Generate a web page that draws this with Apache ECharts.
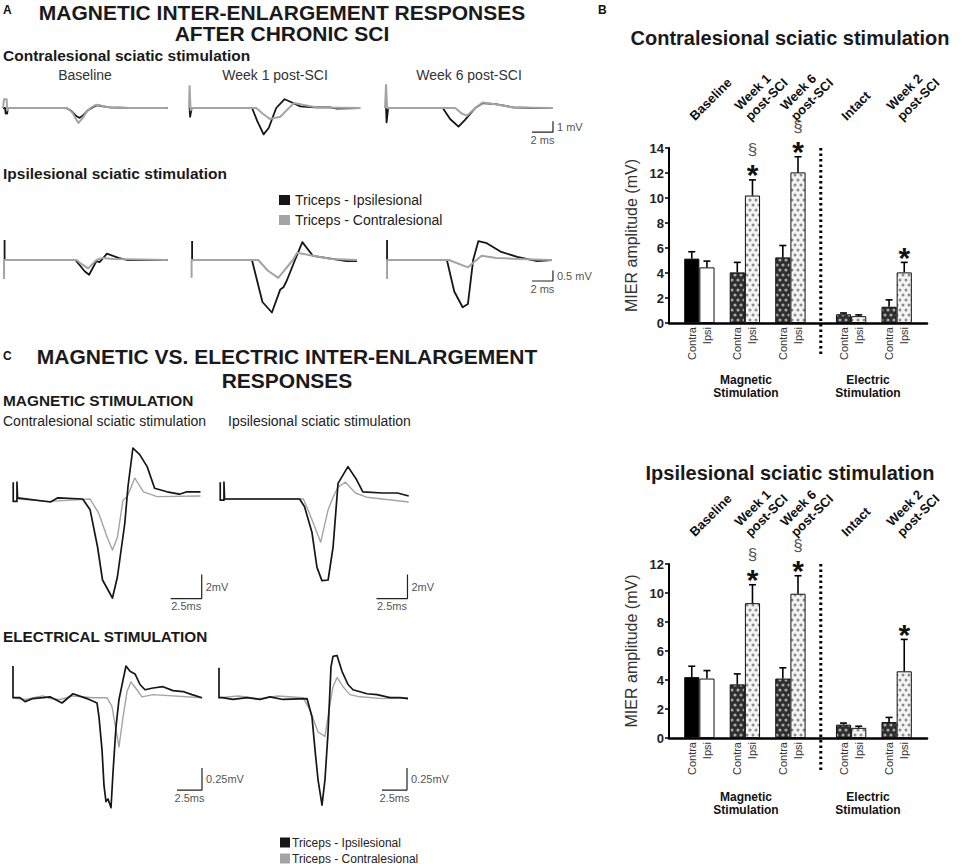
<!DOCTYPE html>
<html><head><meta charset="utf-8">
<script src="https://cdn.jsdelivr.net/npm/echarts@6/dist/echarts.min.js"></script>
<style>html,body{margin:0;padding:0;background:#fff}#c{width:964px;height:864px}</style>
</head><body><div id="c"></div>
<script>
// ================= DATA =================
const NAME_IPSI = 'Triceps - Ipsilesional';
const NAME_CONTRA = 'Triceps - Contralesional';

// Panel A: time (ms), amplitude (mV). "Ipsi" = Triceps - Ipsilesional (black), "Contra" = Triceps - Contralesional (grey)
const aContraStimBaselineIpsi = [[0,0],[0.2,0],[0.25,-0.5],[0.4,-0.5],[0.45,0],[6.0,0],[6.5,-0.25],[7.0,-0.75],[7.3,-0.9],[7.7,-0.6],[8.1,-0.2],[8.6,0.1],[9.0,0.25],[9.5,0.15],[10.2,0.05],[12,0],[15.7,0]];
const aContraStimBaselineContra = [[0,0],[0.1,0.8],[0.35,0.8],[0.4,-0.2],[0.5,0],[6.1,0],[6.6,-0.4],[7.0,-1.1],[7.2,-1.35],[7.6,-0.9],[8.0,-0.3],[8.4,0.05],[8.9,0.3],[9.4,0.2],[10.2,0.05],[12,0],[15.7,0]];
const aContraStimWeek1Ipsi = [[0.15,0],[0.2,-0.8],[0.35,0],[6.1,0],[6.6,-1.2],[7.2,-2.4],[7.7,-1.8],[8.4,0],[9.2,0.8],[9.9,0.5],[10.7,0.15],[12,0.05],[13.5,0.05],[14.2,-0.05],[16.4,0]];
const aContraStimWeek1Contra = [[0.1,0],[0.15,2.0],[0.25,-0.2],[0.35,0],[6.5,0],[7.1,-0.5],[7.8,-1.0],[8.8,-0.8],[9.3,-0.3],[10.1,0.45],[10.9,0.3],[12.3,0.05],[16.4,0]];
const aContraStimWeek6Ipsi = [[0.1,0],[0.15,-1.3],[0.3,0],[5.5,0],[6.2,-1.0],[7.0,-1.7],[7.6,-1.1],[8.6,0],[9.3,0.45],[10.5,0.35],[11.5,0.2],[12.2,0.05],[14,0],[16,0]];
const aContraStimWeek6Contra = [[0,0],[0.1,2.1],[0.2,0],[6.7,0],[7.3,-0.5],[7.8,-0.7],[8.6,0],[9.3,0.5],[10.5,0.35],[12.2,0.05],[16,0]];

const aIpsiStimBaselineIpsi = [[0.15,0.95],[0.15,0],[6.9,0],[7.8,-0.55],[8.2,-0.7],[8.9,-0.05],[9.2,-0.1],[9.9,0.3],[11,0.1],[11.8,0],[15.7,0]];
const aIpsiStimBaselineContra = [[0.1,-0.9],[0.1,0],[7.0,0],[7.5,-0.2],[8.1,-0.4],[8.9,0],[9.5,0.1],[10.5,0.05],[15.7,0]];
const aIpsiStimWeek1Ipsi = [[0.2,0.9],[0.2,0],[5.9,0],[6.9,-2.0],[7.8,-2.5],[8.6,-1.4],[8.9,-1.3],[9.2,-1.0],[10.0,0],[10.7,0.85],[11.7,0.2],[14.9,-0.05],[15.9,-0.05]];
const aIpsiStimWeek1Contra = [[0.15,-0.85],[0.15,0],[6.5,0],[7.4,-0.5],[8.4,-0.85],[9.8,0],[10.2,0.35],[11.7,0.2],[13.5,0.05],[15.9,0]];
const aIpsiStimWeek6Ipsi = [[0.1,0.95],[0.1,0],[5.8,0],[6.5,-1.5],[7.3,-2.25],[7.8,-2.1],[8.3,0],[8.8,0.9],[9.6,0.8],[10.9,0.4],[12.5,0.15],[14.4,-0.05],[15.8,0]];
const aIpsiStimWeek6Contra = [[0.1,-0.9],[0.1,0],[6.0,0],[7.8,-0.35],[9.1,0.2],[10.5,0.1],[12.5,0.05],[15.8,0]];

// Panel C
const cMagContraStimIpsi = [[0.1,1.4],[0.1,-0.2],[0.4,-0.2],[0.4,1.4],[0.45,0.1],[3.1,-0.25],[3.7,0.1],[5.7,0],[6.3,-0.9],[6.9,-4.0],[7.3,-6.75],[8.1,-8.25],[8.5,-6.5],[9.1,-2.0],[9.35,1.0],[9.75,4.25],[10.3,3.7],[10.9,2.7],[11.5,0.9],[12.5,0.6],[13.5,0.4],[14.1,0.6],[15.2,0.6]];
const cMagContraStimContra = [[0.5,0],[3.0,-0.2],[6.3,0],[7.0,-1.2],[7.7,-3.25],[8.1,-4.25],[8.5,-3.2],[8.95,-0.1],[9.3,0.2],[9.9,1.75],[10.6,0.6],[11.7,0.2],[15.2,0.25]];
const cMagIpsiStimIpsi = [[0.1,1.4],[0.1,-0.1],[0.4,-0.1],[0.4,1.4],[0.45,0],[6.5,0],[6.9,-0.65],[7.5,-2.8],[7.9,-5.7],[8.3,-6.8],[8.8,-6.75],[9.2,-4.0],[9.6,1.3],[10.4,2.7],[11.1,1.6],[11.6,0.6],[13.2,0.5],[14.4,0.5],[15.3,0.25]];
const cMagIpsiStimContra = [[0.45,0],[6.8,0],[7.3,-1.2],[8.2,-3.6],[8.8,-0.9],[9.2,0.15],[9.6,1.0],[10.2,1.4],[11.0,0.5],[11.9,0.15],[15.3,-0.25]];
const cElecContraStimIpsi = [[0.1,0.36],[0.1,0],[0.8,0],[1.3,-0.045],[2.1,-0.01],[3.1,0],[3.8,0.01],[5.0,-0.06],[6.1,0.045],[7.5,-0.01],[8.5,-0.06],[8.7,-0.22],[9.0,-0.59],[9.2,-1.0],[9.4,-1.18],[9.6,-1.15],[9.9,-1.25],[10.1,-0.85],[10.4,-0.33],[10.7,-0.02],[11.1,0.2],[11.4,0.36],[11.8,0.3],[12.3,0.27],[12.8,0.15],[13.3,0.09],[14.1,0.11],[15.1,0.125],[16.1,0.08],[17.1,0.07],[18.0,0.035],[19.0,0]];
const cElecContraStimContra = [[0.1,0],[1.3,-0.02],[2.5,0.01],[3.1,0.02],[3.8,-0.01],[4.8,-0.02],[6.1,0.02],[8.1,0],[9.5,0],[10.0,-0.1],[10.3,-0.3],[10.7,-0.56],[11.1,-0.22],[11.5,0.07],[11.9,0.18],[12.5,0.09],[13.0,0.01],[14.1,0.035],[19.0,0]];
const cElecIpsiStimIpsi = [[0.1,0.34],[0.1,0],[0.4,0],[1.5,-0.02],[2.9,0],[4.2,-0.02],[5.2,0.01],[6.5,-0.02],[8.9,-0.01],[9.4,-0.22],[9.7,-0.59],[10.0,-0.93],[10.4,-1.22],[10.7,-0.93],[11.0,-0.4],[11.3,0.35],[11.5,0.47],[11.9,0.48],[12.4,0.3],[13.0,0.15],[13.5,0.09],[14.9,0.045],[15.9,0.035],[17.2,0],[18.2,0],[19.0,-0.01]];
const cElecIpsiStimContra = [[0.1,0],[2.0,0.02],[4.0,-0.01],[6.0,0.02],[8.5,0],[9.2,-0.14],[10.0,-0.39],[10.7,-0.44],[11.1,-0.14],[11.5,0.125],[11.9,0.23],[12.5,0.125],[13.2,0.035],[14.2,0.01],[16.5,-0.01],[19.0,0]];

// Scale bars: [ms, mV, ms label, mV label]
const scaleA1 = [2, 1, '2 ms', '1 mV'];
const scaleA2 = [2, 0.5, '2 ms', '0.5 mV'];
const scaleCMag = [2.5, 2, '2.5ms', '2mV'];
const scaleCElec = [2.5, 0.25, '2.5ms', '0.25mV'];

// Panel B bar charts
const barSlots = ['', 'Contra', 'Ipsi', '', 'Contra', 'Ipsi', '', 'Contra', 'Ipsi', '', '', 'Contra', 'Ipsi', '', 'Contra', 'Ipsi', ''];
const groupLabels = ['Baseline', 'Week 1\npost-SCI', 'Week 6\npost-SCI', 'Intact', 'Week 2\npost-SCI'];
const contraStimContraMean = [5.15, 4.05, 5.25, 0.7, 1.3];
const contraStimContraSem  = [0.55, 0.8, 0.95, 0.1, 0.55];
const contraStimIpsiMean   = [4.45, 10.2, 12.05, 0.55, 4.05];
const contraStimIpsiSem    = [0.5, 1.25, 1.25, 0.1, 0.8];
const ipsiStimContraMean = [4.2, 3.7, 4.1, 0.92, 1.1];
const ipsiStimContraSem  = [0.75, 0.72, 0.74, 0.11, 0.32];
const ipsiStimIpsiMean   = [4.1, 9.3, 9.95, 0.7, 4.6];
const ipsiStimIpsiSem    = [0.55, 1.27, 1.24, 0.11, 2.2];
const starGroups = [1, 2, 4];
const sectionGroups = [1, 2];
const yTopMax = 14, yBottomMax = 12, yStep = 2;

// ================= BUILD =================
const FONT = "'Liberation Sans', Arial, Helvetica, sans-serif";
const BLACK = '#161616', GRAY = '#a4a4a4';
const groupSlot = [1, 4, 7, 11, 14];
const dividerSlot = 9;

const option = {
  animation: false,
  backgroundColor: '#fff',
  textStyle: { fontFamily: FONT },
  grid: [], xAxis: [], yAxis: [], series: [],
  legend: [
    { data: [NAME_IPSI, NAME_CONTRA], orient: 'vertical', left: 279, top: 193, height: 50, icon: 'rect', padding: 0,
      itemWidth: 11, itemHeight: 10, itemGap: 6, selectedMode: false,
      textStyle: { fontSize: 14, color: '#222', lineHeight: 14, fontFamily: FONT } },
    { data: [NAME_IPSI, NAME_CONTRA], orient: 'vertical', left: 280, top: 836.5, height: 40, icon: 'rect', padding: 0,
      itemWidth: 10, itemHeight: 10, itemGap: 4, selectedMode: false,
      textStyle: { fontSize: 12, color: '#222', lineHeight: 11, fontFamily: FONT, padding: [0, 0, 0, -3] } }
  ],
  graphic: { elements: [] }
};

function addTraceGrid(left, top, width, height, xMax, yMin, yMax) {
  const g = option.grid.length;
  option.grid.push({ left, top, width, height, containLabel: false, outerBoundsMode: 'none' });
  const x = option.xAxis.length; option.xAxis.push({ type: 'value', gridIndex: g, min: 0, max: xMax, show: false });
  const y = option.yAxis.length; option.yAxis.push({ type: 'value', gridIndex: g, min: yMin, max: yMax, show: false });
  return { x, y };
}
function addTrace(ax, data, color, width, name, z) {
  option.series.push({ type: 'line', name, xAxisIndex: ax.x, yAxisIndex: ax.y, data,
    symbol: 'none', showSymbol: false, silent: true, clip: false, z,
    lineStyle: { color, width, join: 'round' }, itemStyle: { color } });
}
function addPair(ax, ipsi, contra, wBlack, wGray, grayOnTop) {
  addTrace(ax, ipsi, BLACK, wBlack, NAME_IPSI, grayOnTop ? 2 : 3);
  addTrace(ax, contra, GRAY, wGray, NAME_CONTRA, grayOnTop ? 3 : 2);
}
function addScaleBar(ax, tEnd, vBottom, sc) {
  const [ms, mV, msTxt, mVTxt] = sc;
  option.series.push({ type: 'line', xAxisIndex: ax.x, yAxisIndex: ax.y, silent: true, clip: false,
    symbol: 'none', lineStyle: { color: '#222', width: 1.2 },
    data: [[tEnd - ms, vBottom], [tEnd, vBottom], [tEnd, vBottom + mV]] });
  const lab = { show: true, fontSize: 11, color: '#222', fontFamily: FONT };
  option.series.push({ type: 'scatter', xAxisIndex: ax.x, yAxisIndex: ax.y, silent: true, symbolSize: 0, clip: false,
    data: [
      { value: [tEnd - ms / 2, vBottom], label: Object.assign({}, lab, { formatter: msTxt, position: 'bottom', distance: 2 }) },
      { value: [tEnd, vBottom + mV / 2], label: Object.assign({}, lab, { formatter: mVTxt, position: 'right', distance: 4 }) }
    ] });
}

// Panel A row 1 (contralesional stimulation): 10.5 px/ms, 11 px/mV
const A1 = [3, 188, 385].map(l => addTraceGrid(l, 80.5, 178.5, 55, 17, -2.5, 2.5));
addPair(A1[0], aContraStimBaselineIpsi, aContraStimBaselineContra, 1.8, 2, true);
addPair(A1[1], aContraStimWeek1Ipsi, aContraStimWeek1Contra, 1.8, 2, true);
addPair(A1[2], aContraStimWeek6Ipsi, aContraStimWeek6Contra, 1.8, 2, true);
addScaleBar(A1[2], 16.0, -2.2, scaleA1);
// Panel A row 2 (ipsilesional stimulation): 10.5 px/ms, 21 px/mV
const A2 = [3, 190, 386].map(l => addTraceGrid(l, 218, 178.5, 105, 17, -3, 2));
addPair(A2[0], aIpsiStimBaselineIpsi, aIpsiStimBaselineContra, 1.8, 2, true);
addPair(A2[1], aIpsiStimWeek1Ipsi, aIpsiStimWeek1Contra, 1.8, 2, true);
addPair(A2[2], aIpsiStimWeek6Ipsi, aIpsiStimWeek6Contra, 1.8, 2, true);
addScaleBar(A2[2], 15.9, -1.0, scaleA2);
// Panel C magnetic: 12.4 px/ms, 12 px/mV
const CM = [12, 219].map(l => addTraceGrid(l, 439, 198.4, 168, 16, -9, 5));
addPair(CM[0], cMagContraStimIpsi, cMagContraStimContra, 1.7, 1.4, false);
addPair(CM[1], cMagIpsiStimIpsi, cMagIpsiStimContra, 1.7, 1.4, false);
addScaleBar(CM[0], 15.3, -8.3, scaleCMag);
addScaleBar(CM[1], 15.2, -8.3, scaleCMag);
// Panel C electrical: 10 px/ms, 88 px/mV
const CE = [12, 218].map(l => addTraceGrid(l, 644.9, 200, 167.2, 20, -1.3, 0.6));
addPair(CE[0], cElecContraStimIpsi, cElecContraStimContra, 1.7, 1.4, false);
addPair(CE[1], cElecIpsiStimIpsi, cElecIpsiStimContra, 1.7, 1.4, false);
addScaleBar(CE[0], 19.0, -1.05, scaleCElec);
addScaleBar(CE[1], 18.9, -1.05, scaleCElec);

// ---- bar patterns ----
function makePattern(bg, fg, r) {
  const c = document.createElement('canvas'); c.width = 6; c.height = 10;
  const g = c.getContext('2d'); g.fillStyle = bg; g.fillRect(0, 0, 6, 10); g.fillStyle = fg;
  [[0, 0], [6, 0], [0, 10], [6, 10], [3, 5]].forEach(([x, y]) => { g.beginPath(); g.arc(x, y, r, 0, Math.PI * 2); g.fill(); });
  return { image: c, repeat: 'repeat', imageWidth: 6, imageHeight: 10 };
}
const darkPattern = makePattern('#2e2e2e', '#a8a8a8', 1.6);
const lightPattern = makePattern('#f4f4f4', '#8c8c8c', 1.5);

function addBarChart(top, height, yMax, cMean, cSem, iMean, iSem) {
  const g = option.grid.length;
  option.grid.push({ left: 669, top, width: 258, height, containLabel: false, outerBoundsMode: 'none' });
  const xb = option.xAxis.length;
  option.xAxis.push({ type: 'category', gridIndex: g, data: barSlots, position: 'bottom',
    axisLine: { lineStyle: { color: '#000', width: 2.5 } }, axisTick: { show: false },
    axisLabel: { interval: 0, rotate: 90, fontSize: 11, color: '#333', margin: 4, fontFamily: FONT } });
  const topData = barSlots.map((s, i) => {
    const k = groupSlot.indexOf(i);
    if (k < 0) return { value: '' };
    const label = groupLabels[k];
    return { value: label, textStyle: label.indexOf('\n') >= 0 ? { padding: [0, 0, 14, 7] } : { padding: [0, 0, 4, 0] } };
  });
  option.xAxis.push({ type: 'category', gridIndex: g, data: topData, position: 'top',
    axisLine: { show: false }, axisTick: { show: false },
    axisLabel: { interval: 0, rotate: -45, margin: 30, fontSize: 13, fontWeight: 'bold', color: '#111',
      lineHeight: 15, fontFamily: FONT } });
  const y = option.yAxis.length;
  option.yAxis.push({ type: 'value', gridIndex: g, min: 0, max: yMax, interval: yStep,
    axisLine: { show: true, lineStyle: { color: '#000', width: 2 } },
    axisTick: { show: true, length: 4, lineStyle: { color: '#000', width: 1.5 } },
    splitLine: { show: false },
    axisLabel: { fontSize: 13, fontWeight: 'bold', color: '#222', margin: 5, fontFamily: FONT },
    name: 'MIER amplitude (mV)', nameLocation: 'middle', nameGap: 30,
    nameTextStyle: { fontSize: 16, color: '#333', fontFamily: FONT } });
  const data = barSlots.map(() => '-');
  cMean.forEach((v, k) => { data[groupSlot[k]] = { value: v, itemStyle: { color: k === 0 ? '#000' : darkPattern } }; });
  iMean.forEach((v, k) => { data[groupSlot[k] + 1] = { value: v, itemStyle: { color: k === 0 ? '#fff' : lightPattern } }; });
  option.series.push({ type: 'bar', xAxisIndex: xb, yAxisIndex: y, data, barWidth: '100%', silent: true,
    itemStyle: { borderColor: '#111', borderWidth: 1 }, z: 2 });
  const err = [];
  cMean.forEach((v, k) => err.push([groupSlot[k], v, v + cSem[k]]));
  iMean.forEach((v, k) => err.push([groupSlot[k] + 1, v, v + iSem[k]]));
  option.series.push({ type: 'custom', xAxisIndex: xb, yAxisIndex: y, data: err, silent: true, clip: false, z: 4,
    renderItem: (p, api) => {
      const a = api.coord([api.value(0), api.value(1)]), b = api.coord([api.value(0), api.value(2)]);
      const st = { stroke: '#000', lineWidth: 1.6 };
      return { type: 'group', children: [
        { type: 'line', shape: { x1: a[0], y1: a[1], x2: b[0], y2: b[1] }, style: st },
        { type: 'line', shape: { x1: b[0] - 3.5, y1: b[1], x2: b[0] + 3.5, y2: b[1] }, style: st } ] };
    } });
  const ann = iMean.map((v, k) => [groupSlot[k] + 1, v + iSem[k], starGroups.includes(k) ? 1 : 0, sectionGroups.includes(k) ? 1 : 0])
    .filter(d => d[2] || d[3]);
  option.series.push({ type: 'custom', xAxisIndex: xb, yAxisIndex: y, data: ann, silent: true, clip: false, z: 5,
    renderItem: (p, api) => {
      const q = api.coord([api.value(0), api.value(1)]);
      const ch = [];
      if (api.value(2)) ch.push({ type: 'text', x: q[0], y: q[1] - 5, style: { text: '*', fontSize: 30, fontWeight: 'bold', fill: '#111',
        lineHeight: 12, align: 'center', verticalAlign: 'middle', textAlign: 'center', textVerticalAlign: 'middle', fontFamily: FONT } });
      if (api.value(3)) ch.push({ type: 'text', x: q[0], y: q[1] - 30, style: { text: '§', fontSize: 17, fill: '#555',
        lineHeight: 12, align: 'center', verticalAlign: 'middle', textAlign: 'center', textVerticalAlign: 'middle', fontFamily: FONT } });
      return { type: 'group', children: ch };
    } });
  option.series.push({ type: 'custom', xAxisIndex: xb, yAxisIndex: y, data: [[dividerSlot, yMax]], silent: true, clip: false, z: 3,
    renderItem: (p, api) => {
      const t = api.coord([api.value(0), api.value(1)]), b = api.coord([api.value(0), 0]);
      const x = t[0] + api.size([1, 0])[0] / 2;
      return { type: 'line', shape: { x1: x, y1: t[1], x2: x, y2: b[1] + 34 }, style: { stroke: '#000', lineWidth: 3, lineDash: [2.5, 3] } };
    } });
}
addBarChart(148, 175, yTopMax, contraStimContraMean, contraStimContraSem, contraStimIpsiMean, contraStimIpsiSem);
addBarChart(564, 174, yBottomMax, ipsiStimContraMean, ipsiStimContraSem, ipsiStimIpsiMean, ipsiStimIpsiSem);

// ---- texts ----
function txt(x, y, text, size, weight, align, color, lh) {
  option.graphic.elements.push({ type: 'text', x, y, silent: true, style: {
    text, fontSize: size, fontWeight: weight || 'normal', fontFamily: FONT, fill: color || '#222',
    align: align || 'left', textAlign: align || 'left', verticalAlign: 'middle', textVerticalAlign: 'middle',
    lineHeight: lh || undefined } });
}
txt(3, 10, 'A', 12, 'bold', 'left', '#111');
txt(282, 12, 'MAGNETIC INTER-ENLARGEMENT RESPONSES', 21, 'bold', 'center', '#1a1a1a');
txt(282, 33, 'AFTER CHRONIC SCI', 21, 'bold', 'center', '#1a1a1a');
txt(3, 55, 'Contralesional sciatic stimulation', 15.5, 'bold', 'left', '#1a1a1a');
txt(85, 75, 'Baseline', 14, 'normal', 'center', '#333');
txt(275, 75, 'Week 1 post-SCI', 14, 'normal', 'center', '#333');
txt(469, 75, 'Week 6 post-SCI', 14, 'normal', 'center', '#333');
txt(3, 173, 'Ipsilesional sciatic stimulation', 15.5, 'bold', 'left', '#1a1a1a');
txt(3, 356, 'C', 12, 'bold', 'left', '#111');
txt(287, 356, 'MAGNETIC VS. ELECTRIC INTER-ENLARGEMENT', 21, 'bold', 'center', '#1a1a1a');
txt(287, 380, 'RESPONSES', 21, 'bold', 'center', '#1a1a1a');
txt(3, 400, 'MAGNETIC STIMULATION', 15.4, 'bold', 'left', '#1a1a1a');
txt(3, 421, 'Contralesional sciatic stimulation', 14, 'normal', 'left', '#222');
txt(228, 421, 'Ipsilesional sciatic stimulation', 14, 'normal', 'left', '#222');
txt(3, 636, 'ELECTRICAL STIMULATION', 15.3, 'bold', 'left', '#1a1a1a');
txt(598, 10, 'B', 12, 'bold', 'left', '#111');
txt(790, 38, 'Contralesional sciatic stimulation', 20, 'bold', 'center', '#1a1a1a');
txt(790, 473, 'Ipsilesional sciatic stimulation', 20, 'bold', 'center', '#1a1a1a');
txt(746, 386, 'Magnetic\nStimulation', 12, 'bold', 'center', '#111', 13);
txt(868, 386, 'Electric\nStimulation', 12, 'bold', 'center', '#111', 13);
txt(746, 803, 'Magnetic\nStimulation', 12, 'bold', 'center', '#111', 13);
txt(868, 803, 'Electric\nStimulation', 12, 'bold', 'center', '#111', 13);

const chart = echarts.init(document.getElementById('c'), null, { renderer: 'svg', width: 964, height: 864 });
chart.setOption(option);
</script></body></html>
